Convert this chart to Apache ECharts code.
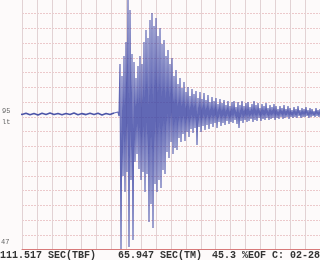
<!DOCTYPE html>
<html>
<head>
<meta charset="utf-8">
<script src="https://cdn.jsdelivr.net/npm/echarts@6/dist/echarts.min.js"></script>
<style>
html,body{margin:0;padding:0;background:#fdfafa;}
#c{width:320px;height:260px;}
</style>
</head>
<body>
<div id="c"></div>
<script>
// Amplitude scale: value units above the bottom edge of the record
const baseline = 135.5;
// pre-event noise, sampled every 4 units starting at -4
const preStart = -4;
const preStep = 4;
const preNoise = [0.6,-0.5,0.8,-0.7,0.4,-0.9,0.7,-0.4,0.9,-0.6,0.5,-0.8,0.6,-0.5,0.9,-0.7,0.4,-0.6,0.8,-0.5,0.7,-0.9,0.5,-0.6,1.0];
// event: upward peaks and downward troughs, one pair every 2 units starting at 96
const evStart = 96;
const evStep = 2;
const upPeaks = [2,50,38,58,72,114,104,60,52,36,
  48,58,50,72,84,76,94,101,88,96,
  78,86,70,74,58,64,50,56,38,44,
  30,36,26,32,22,27,18,25,20,23,
  16,22,15,21,14,19,12,17,13,16,
  10,15,11,14,9,13,8,12,13,7,
  12,9,13,8,11,12,7,10,13,9,
  11,6,10,8,11,6,9,7,10,8,
  5,8,6,9,5,8,6,4,7,5,
  8,4,6,5,7,4,6,5,3,6,
  4,5];
const downTroughs = [2,135,62,78,58,133,66,126,48,40,
  55,66,58,78,60,108,90,114,70,78,
  66,74,56,60,38,44,28,40,34,36,
  24,28,20,27,18,23,15,19,14,31,
  13,18,12,16,11,15,10,13,9,14,
  8,12,9,11,7,10,8,9,6,10,
  14,7,9,6,8,7,5,8,6,7,
  4,7,5,6,4,6,5,4,6,4,
  5,3,5,4,3,5,3,4,3,4,
  2,4,3,3,2,4,3,2,3,2,
  3,2];
// grid spacing
const xMax = 298, xInterval = 14.9;
const yMax = 249.5, yInterval = 14.75;
// annotation texts
const sideLabels = ['95','lt','47'];
const footer = ['111.517 SEC(TBF)','65.947 SEC(TM)','45.3 %EOF C: 02-28'];

const preData = preNoise.map((v,i)=>[preStart + i*preStep, baseline + v]);
const evData = [preData[preData.length-1]];
upPeaks.forEach((u,i)=>{
  const x = evStart + i*evStep;
  evData.push([x, baseline + u]);
  evData.push([x + 1, baseline - downTroughs[i]]);
});

const chart = echarts.init(document.getElementById('c'), null, {renderer:'canvas'});
const mono = '"Liberation Mono", "DejaVu Sans Mono", monospace';
chart.setOption({
  animation:false,
  backgroundColor:'#fdfafa',
  grid:{left:22,right:0,top:0,bottom:10.5},
  xAxis:{type:'value',min:0,max:xMax,interval:xInterval,
    axisLine:{show:true,onZero:false,lineStyle:{color:'#d87a7a',width:1}},
    axisTick:{show:false},axisLabel:{show:false},
    splitLine:{show:true,showMinLine:true,showMaxLine:false,lineStyle:{color:'#e2d2d4',width:1}}},
  yAxis:{type:'value',min:0,max:yMax,interval:yInterval,
    axisLine:{show:false},axisTick:{show:false},axisLabel:{show:false},
    splitLine:{show:true,showMinLine:false,showMaxLine:false,lineStyle:{color:'#ecc9cb',width:1,type:[2,1]}}},
  series:[
    {type:'line',data:preData,showSymbol:false,symbol:'none',clip:false,
      lineStyle:{color:'#38439e',width:1.6,opacity:0.9}},
    {type:'line',data:evData,showSymbol:false,symbol:'none',clip:false,
      lineStyle:{color:'#3944a4',width:1.2,opacity:0.8}}],
  graphic:[
    {type:'text',left:2,top:108,style:{text:sideLabels[0],font:'7px '+mono,fill:'#666'}},
    {type:'text',left:2,top:119,style:{text:sideLabels[1],font:'7px '+mono,fill:'#666'}},
    {type:'text',left:1,top:239,style:{text:sideLabels[2],font:'7px '+mono,fill:'#666'}},
    {type:'text',left:0,top:250,style:{text:footer[0],font:'bold 10px '+mono,fill:'#333'}},
    {type:'text',left:118,top:250,style:{text:footer[1],font:'bold 10px '+mono,fill:'#333'}},
    {type:'text',left:212,top:250,style:{text:footer[2],font:'bold 10px '+mono,fill:'#333'}}
  ]
});
</script>
</body>
</html>
